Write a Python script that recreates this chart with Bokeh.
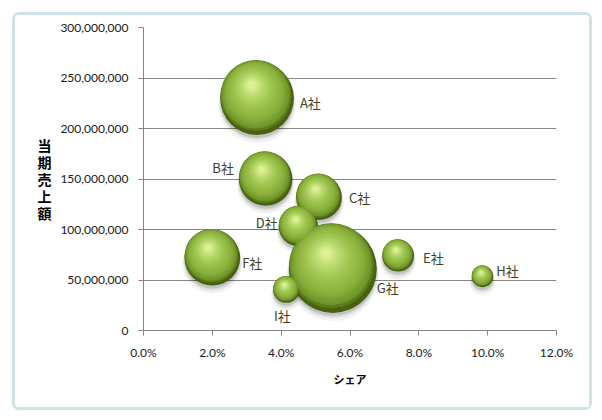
import numpy as np
from bokeh.plotting import figure
from bokeh.models import NumeralTickFormatter, FixedTicker, Range1d
from bokeh.core.properties import value
from bokeh.embed import file_html
from bokeh.resources import INLINE

# ---- data ----
companies = ["A社", "B社", "C社", "D社", "E社", "F社", "G社", "H社", "I社"]
share = [0.033, 0.0355, 0.051, 0.045, 0.074, 0.020, 0.055, 0.0985, 0.0415]
sales = [230e6, 150e6, 132e6, 103e6, 74e6, 72e6, 61e6, 53.5e6, 40.5e6]
bubble_size = [70, 37, 27, 20, 13, 40, 100, 6, 9]
x_ticks = [0.0, 0.02, 0.04, 0.06, 0.08, 0.10, 0.12]
y_ticks = [0, 50e6, 100e6, 150e6, 200e6, 250e6, 300e6]
x_title = "シェア"
y_title = "当期売上額"

# ---- layout / style ----
W, H = 574, 392
FRAME_W, FRAME_H = 413, 303
LEFT, TOP = 128, 12
X0, X1 = 0.0, 0.12
Y0, Y1 = 0.0, 300e6
MAX_D = 88.0
px_x = (X1 - X0) / FRAME_W
px_y = (Y1 - Y0) / FRAME_H

p = figure(width=W, height=H, output_backend="svg", toolbar_location=None,
           x_range=Range1d(X0, X1), y_range=Range1d(Y0, Y1),
           frame_width=FRAME_W, frame_height=FRAME_H,
           min_border_left=LEFT, min_border_top=TOP,
           min_border_right=W - LEFT - FRAME_W, min_border_bottom=H - TOP - FRAME_H)
p.margin = (12, 0, 0, 12)
p.styles = {"border": "3px solid #cfe2e8", "border-radius": "7px"}
p.background_fill_color = "white"
p.border_fill_color = "white"
p.outline_line_color = None

AX = "#868686"
p.xgrid.visible = False
p.ygrid.grid_line_color = AX
p.ygrid.grid_line_width = 1
p.ygrid.ticker = FixedTicker(ticks=y_ticks)

for ax in (p.xaxis[0], p.yaxis[0]):
    ax.axis_line_color = AX
    ax.major_tick_line_color = AX
    ax.major_tick_out = 5
    ax.major_tick_in = 0
    ax.minor_tick_line_color = None
    ax.major_label_text_font = "Lato"
    ax.major_label_text_font_size = "12px"
    ax.major_label_text_color = "#1a1a1a"

p.xaxis.ticker = FixedTicker(ticks=x_ticks)
p.xaxis.formatter = NumeralTickFormatter(format="0.0%")
p.xaxis.major_label_standoff = 9
p.xaxis.axis_label = x_title
p.xaxis.axis_label_text_font = "Noto Sans CJK JP"
p.xaxis.axis_label_text_font_style = "bold"
p.xaxis.axis_label_text_font_size = "11px"
p.xaxis.axis_label_text_color = "black"
p.xaxis.axis_label_standoff = 8

p.yaxis.ticker = FixedTicker(ticks=y_ticks)
p.yaxis.formatter = NumeralTickFormatter(format="0,0")
p.yaxis.major_label_standoff = 10
p.yaxis.axis_label = "\n".join(y_title)
p.yaxis.axis_label_orientation = "horizontal"
p.yaxis.axis_label_text_font = "Noto Sans CJK JP"
p.yaxis.axis_label_text_font_style = "bold"
p.yaxis.axis_label_text_font_size = "14px"
p.yaxis.axis_label_text_color = "black"
p.yaxis.axis_label_text_line_height = 0.85
p.yaxis.axis_label_standoff = 6

# ---- bubbles ----
share_a = np.array(share)
sales_a = np.array(sales)
diam = MAX_D * np.sqrt(np.array(bubble_size, dtype=float) / max(bubble_size))
rad = diam / 2.0

# soft shadows
for dy_s, grow, a in [(6, 4, 0.05), (4, 2, 0.08), (3, 0, 0.12)]:
    p.scatter(share_a, sales_a - dy_s * px_y, size=diam + grow, marker="circle",
              fill_color="black", fill_alpha=a, line_color=None)

def lerp_col(stops, t):
    for (t0, c0), (t1, c1) in zip(stops[:-1], stops[1:]):
        if t <= t1:
            u = (t - t0) / (t1 - t0) if t1 > t0 else 0
            c = [int(round(c0[i] + (c1[i] - c0[i]) * u)) for i in range(3)]
            return "#%02x%02x%02x" % tuple(c)
    return "#%02x%02x%02x" % tuple(stops[-1][1])

stops = [(0.0, (72, 98, 16)), (0.08, (112, 148, 40)), (0.25, (138, 176, 60)),
         (0.55, (160, 198, 82)), (0.82, (192, 222, 116)), (1.0, (220, 240, 150))]
N = 26
for f in np.linspace(0, 1, N):
    s = 1 - 0.9 * f
    g = f ** 0.5
    ox = -0.15 * g * rad
    oy = -0.36 * g * rad
    p.scatter(share_a + ox * px_x, sales_a - oy * px_y, size=diam * s, marker="circle",
              fill_color=lerp_col(stops, f), line_color=None)

# ---- labels ----
label_side = ["right", "left", "right", "left", "right", "right", "right", "right", "below"]
label_gap = [6, 5, 7, 1, 9, 2, 0, 3, 13]
label_dy = [4, -12, 0, -4, 2, 5, 19, -6, 0]
dx, dy, al = [], [], []
for side, gp, d, r in zip(label_side, label_gap, label_dy, rad):
    if side == "right":
        dx.append(r + gp); dy.append(d); al.append("left")
    elif side == "left":
        dx.append(-(r + gp)); dy.append(d); al.append("right")
    else:
        dx.append(-4); dy.append(r + gp); al.append("center")

p.text(x=share, y=sales, text=companies, x_offset=dx, y_offset=dy, text_align=al,
       text_baseline="middle", text_font=value("Noto Sans CJK JP"),
       text_font_size="13px", text_color="#3e3e24")

open("out.html", "w").write(file_html(p, INLINE))
